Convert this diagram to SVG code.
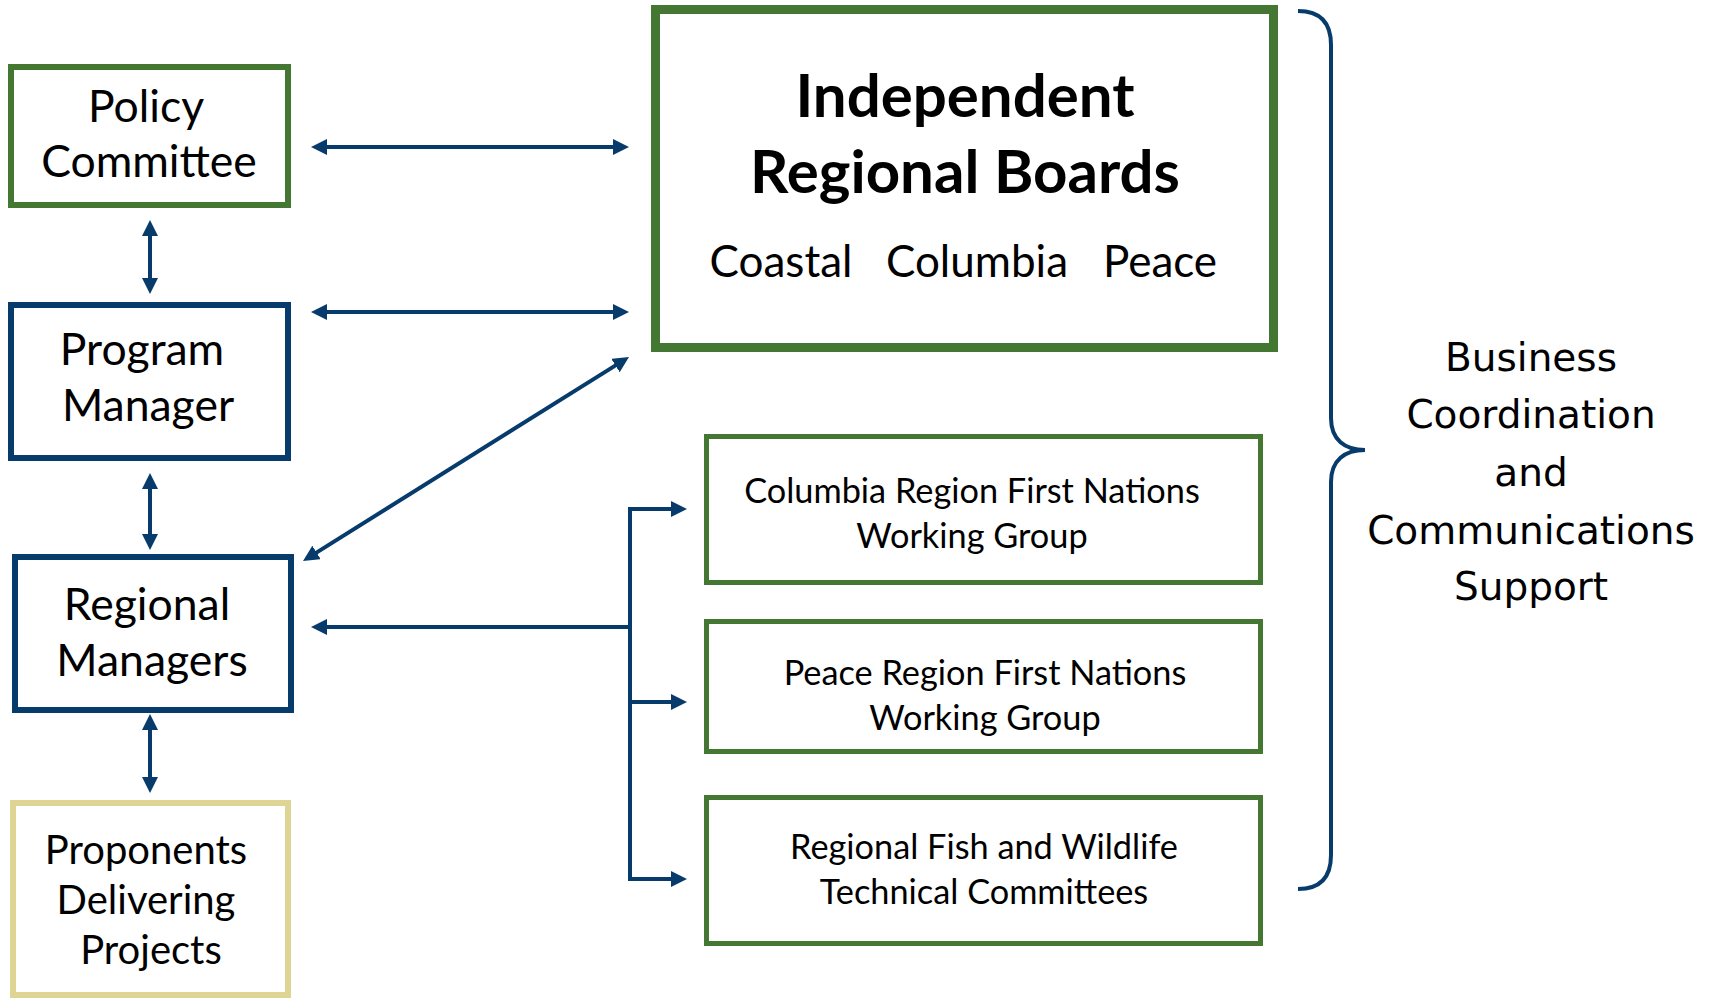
<svg xmlns="http://www.w3.org/2000/svg" width="1715" height="998" viewBox="0 0 1715 998">
<style>
.g{fill:#fff;stroke:#437732}
.b{fill:#fff;stroke:#073B6B;stroke-width:6}
.y{fill:#fff;stroke:#DED494;stroke-width:6}
.t{font-family:Lato,"Liberation Sans",sans-serif;fill:#000;text-anchor:middle}
.r{font-family:"DejaVu Sans",sans-serif;fill:#000;text-anchor:middle;font-size:39px}
.c{fill:none;stroke:#073B6B;stroke-width:4;stroke-linejoin:miter}
</style>
<defs>
<marker id="ah" viewBox="0 0 16 16" refX="4" refY="8" markerWidth="16" markerHeight="16" markerUnits="userSpaceOnUse" orient="auto-start-reverse"><path d="M0,0 L16,8 L0,16 z" fill="#073B6B"/></marker>
</defs>
<g id="policy"><rect class="g" x="11" y="67" width="277" height="138" stroke-width="6"/><text class="t" font-size="44.5"><tspan x="146" y="122">Policy</tspan><tspan x="149" y="177">Committee</tspan></text></g>
<g id="program"><rect class="b" x="11" y="305" width="277" height="153"/><text class="t" font-size="44.5"><tspan x="142" y="365">Program</tspan><tspan x="148" y="421">Manager</tspan></text></g>
<g id="regional"><rect class="b" x="15" y="557" width="276" height="153"/><text class="t" font-size="44.5"><tspan x="147" y="620">Regional</tspan><tspan x="152" y="676">Managers</tspan></text></g>
<g id="proponents"><rect class="y" x="13" y="803" width="275" height="192"/><text class="t" font-size="40"><tspan x="146" y="864">Proponents</tspan><tspan x="146" y="914">Delivering</tspan><tspan x="151" y="964">Projects</tspan></text></g>
<g id="irb"><rect class="g" x="655.5" y="9.5" width="618" height="338" stroke-width="9"/><text class="t" font-size="60" font-weight="bold"><tspan x="965" y="117">Independent</tspan><tspan x="965" y="193">Regional Boards</tspan></text><text class="t" font-size="44"><tspan x="781" y="277">Coastal</tspan><tspan x="977" y="277">Columbia</tspan><tspan x="1160" y="277">Peace</tspan></text></g>
<g id="columbia"><rect class="g" x="706.5" y="436.5" width="554" height="146" stroke-width="5"/><text class="t" font-size="34.3"><tspan x="972" y="503">Columbia Region First Nations</tspan><tspan x="972" y="548">Working Group</tspan></text></g>
<g id="peace"><rect class="g" x="706.5" y="621.5" width="554" height="130" stroke-width="5"/><text class="t" font-size="34.3"><tspan x="985" y="685">Peace Region First Nations</tspan><tspan x="985" y="730">Working Group</tspan></text></g>
<g id="fish"><rect class="g" x="706.5" y="797.5" width="554" height="146" stroke-width="5"/><text class="t" font-size="34.3"><tspan x="984" y="859">Regional Fish and Wildlife</tspan><tspan x="984" y="904">Technical Committees</tspan></text></g>
<g id="support"><path class="c" stroke-width="5" d="M1298,11 C1320,11 1331,22 1331,45 L1331,418 C1331,440 1345,450 1365,450 C1345,450 1331,460 1331,482 L1331,855 C1331,878 1320,889 1298,889"/><text class="r"><tspan x="1531" y="371">Business</tspan><tspan x="1531" y="428">Coordination</tspan><tspan x="1531" y="486">and</tspan><tspan x="1531" y="544">Communications</tspan><tspan x="1531" y="600">Support</tspan></text></g>
<g id="connectors">
<path class="c" d="M323,147 H617" marker-start="url(#ah)" marker-end="url(#ah)"/>
<path class="c" d="M323,312 H617" marker-start="url(#ah)" marker-end="url(#ah)"/>
<path class="c" d="M618.8,363.4 L313.2,554.6" marker-start="url(#ah)" marker-end="url(#ah)"/>
<path class="c" d="M150,232 V282" marker-start="url(#ah)" marker-end="url(#ah)"/>
<path class="c" d="M150,485 V538" marker-start="url(#ah)" marker-end="url(#ah)"/>
<path class="c" d="M150,726 V781" marker-start="url(#ah)" marker-end="url(#ah)"/>
<path class="c" d="M675,509 H630 V879 H675" marker-start="url(#ah)" marker-end="url(#ah)"/>
<path class="c" d="M630,702 H675" marker-end="url(#ah)"/>
<path class="c" d="M630,627 H323" marker-end="url(#ah)"/>
</g>
</svg>
